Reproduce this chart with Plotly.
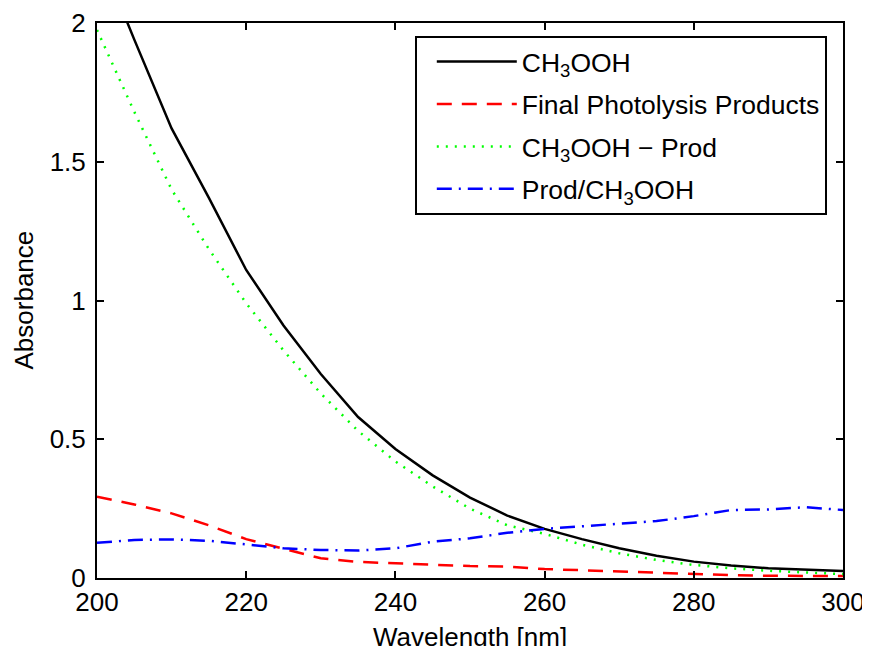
import plotly.graph_objects as go

wavelength = [200, 205, 210, 215, 220, 225, 230, 235, 240, 245, 250,
              255, 260, 265, 270, 275, 280, 285, 290, 295, 300]
ch3ooh = [2.27, 1.94, 1.62, 1.37, 1.11, 0.91, 0.735, 0.58, 0.465, 0.37, 0.29,
          0.225, 0.177, 0.14, 0.107, 0.08, 0.059, 0.045, 0.035, 0.029, 0.025]
products = [0.293, 0.265, 0.233, 0.19, 0.14, 0.105, 0.071, 0.058, 0.053, 0.048, 0.043,
            0.041, 0.032, 0.028, 0.023, 0.02, 0.014, 0.01, 0.008, 0.007, 0.007]
difference = [1.975, 1.68, 1.40, 1.185, 0.99, 0.82, 0.665, 0.53, 0.42, 0.33, 0.25,
              0.19, 0.159, 0.12, 0.089, 0.065, 0.047, 0.035, 0.026, 0.02, 0.014]
ratio = [0.127, 0.137, 0.139, 0.134, 0.121, 0.107, 0.101, 0.099, 0.107, 0.131, 0.143,
         0.163, 0.177, 0.187, 0.197, 0.205, 0.223, 0.245, 0.247, 0.255, 0.245]

names = ["CH<sub>3</sub>OOH", "Final Photolysis Products",
         "CH<sub>3</sub>OOH \u2212 Prod", "Prod/CH<sub>3</sub>OOH"]
x_title = "Wavelength [nm]"
y_title = "Absorbance"

FONT = "Liberation Sans, Arial, sans-serif"
FS = 26

fig = go.Figure()
fig.add_trace(go.Scatter(x=wavelength, y=ch3ooh, name=names[0], mode="lines", legendgroup="a",
                         line=dict(color="black", width=2.5)))
fig.add_trace(go.Scatter(x=wavelength, y=products, name=names[1], mode="lines", legendgroup="b",
                         line=dict(color="#ff0000", width=2.5, dash="15px,10px")))
fig.add_trace(go.Scatter(x=wavelength, y=difference, name=names[2], mode="lines", legendgroup="c",
                         line=dict(color="#00ff00", width=2.5, dash="2px,7px")))
fig.add_trace(go.Scatter(x=wavelength, y=ratio, name=names[3], mode="lines", legendgroup="d",
                         line=dict(color="#0000ff", width=2.5, dash="15px,7px,2px,7px")))

axis_common = dict(showgrid=False, zeroline=False, showline=True, linecolor="black",
                   linewidth=2, mirror="ticks", ticks="inside", ticklen=7,
                   tickwidth=2, tickcolor="black", automargin=False,
                   tickfont=dict(family=FONT, size=FS, color="black"))

fig.update_xaxes(range=[200, 300], tickvals=[200, 220, 240, 260, 280, 300],
                 ticklabelstandoff=0, **axis_common)
fig.update_yaxes(range=[0, 2], tickvals=[0, 0.5, 1, 1.5, 2],
                 ticktext=["0", "0.5", "1", "1.5", "2"],
                 ticklabelstandoff=4, **axis_common)

fig.add_annotation(text=x_title, xref="paper", yref="paper", x=0.5, y=0,
                   xanchor="center", yanchor="middle", yshift=-59, showarrow=False,
                   font=dict(family=FONT, size=FS, color="black"))
fig.add_annotation(text=y_title, xref="paper", yref="paper", x=0, y=0.5,
                   xanchor="center", yanchor="middle", xshift=-74, textangle=-90,
                   showarrow=False, font=dict(family=FONT, size=FS, color="black"))

fig.update_layout(
    width=862, height=638,
    margin=dict(l=89, r=27, t=15, b=68),
    paper_bgcolor="white", plot_bgcolor="white",
    font=dict(family=FONT, size=FS, color="black"),
    showlegend=True,
    legend=dict(x=0.426, y=0.977, xanchor="left", yanchor="top",
                bgcolor="white", bordercolor="black", borderwidth=2,
                font=dict(family=FONT, size=26.5, color="black"),
                itemwidth=80, indentation=15, tracegroupgap=5,
                traceorder="grouped"),
)

fig.write_html("out.html")
